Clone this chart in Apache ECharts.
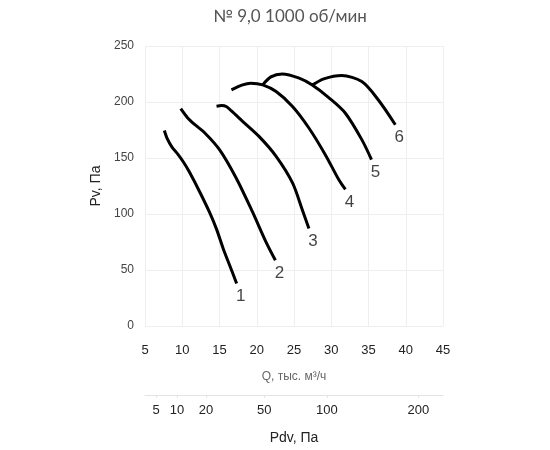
<!DOCTYPE html>
<html><head><meta charset="utf-8">
<script src="https://cdn.jsdelivr.net/npm/echarts@6/dist/echarts.min.js"></script>
<style>html,body{margin:0;padding:0;background:#fff}#c{width:550px;height:450px}</style>
</head><body><div id="c"></div>
<script>
const curveNames = ['1','2','3','4','5','6'];
const curve1 = [[7.6,174.6],[8.0,167],[8.6,160],[9.4,153.5],[10.2,146],[11.0,137],[12.4,119],[13.7,101],[14.6,86.5],[15.5,69],[16.4,53.6],[17.3,38]];
const curve2 = [[9.8,194],[10.7,186],[11.7,179.7],[13.0,172.6],[15.0,157.5],[17.2,132.6],[19.4,102.3],[21.2,75.6],[22.5,58.7]];
const curve3 = [[14.6,196.3],[15.3,196.8],[15.9,196],[16.6,192],[18.1,182.7],[20.3,169.3],[22.6,151.5],[24.8,127.8],[26.1,104],[27.0,87]];
const curve4 = [[16.6,210.9],[18.1,215.3],[19.2,216.8],[20.8,215.3],[22.6,209.3],[24.8,196],[27.0,176.8],[29.2,153],[31.0,130.8],[31.9,121.9]];
const curve5 = [[20.8,215.3],[21.9,222.4],[23.4,225],[25.7,221.3],[27.4,215.3],[29.7,203.7],[31.9,190],[34.1,166.4],[35.4,148.6]];
const curve6 = [[27.5,215.3],[29.0,220.6],[31.4,223.6],[34.1,218.2],[36.3,202],[38.6,179.7]];
const curves = [curve1,curve2,curve3,curve4,curve5,curve6];
const pdvTicks = [5,10,20,50,100,200];
const pdvTickQ = [6.5,9.3,13.2,21.0,29.4,41.7];

const chart = echarts.init(document.getElementById('c'), null, {renderer:'canvas'});
const font = 'Liberation Sans, Arial, sans-serif';
const lineSeries = curves.map((c,i)=>({
  type:'line', name:curveNames[i], xAxisIndex:0, yAxisIndex:0,
  smooth:0.3, symbol:'none', lineStyle:{color:'#000', width:3}, data:c
}));
const labelSeries = {
  type:'scatter', xAxisIndex:0, yAxisIndex:0, symbolSize:1, silent:true,
  itemStyle:{color:'rgba(0,0,0,0)'},
  label:{show:true, position:'bottom', distance:4, offset:[4,0], fontFamily:font, fontSize:17, color:'#111',
    formatter:function(p){return curveNames[p.dataIndex];}},
  data: curves.map(c=>c[c.length-1])
};
chart.setOption({
  animation:false,
  backgroundColor:'#fff',
  title:{text:'№ 9,0 1000 об/мин', left:285, top:3, textAlign:'center',
    textStyle:{fontFamily:'Lato, Noto Sans, sans-serif', fontWeight:'normal', fontSize:17, color:'#555'}},
  grid:{left:145, right:107, top:46, bottom:123, containLabel:false},
  xAxis:[{
    type:'value', min:5, max:45, interval:5,
    name:'Q, тыс. м³/ч', nameLocation:'middle', nameGap:45,
    nameTextStyle:{fontFamily:font, fontSize:12, color:'#666'},
    axisLine:{show:false}, axisTick:{show:false},
    axisLabel:{margin:18, fontFamily:font, fontSize:13, color:'#222'},
    splitLine:{show:true, lineStyle:{color:'#eeeeee', width:1}}
  },{
    type:'value', min:5, max:45, position:'bottom', offset:69,
    name:'Pdv, Па', nameLocation:'middle', nameGap:36,
    nameTextStyle:{fontFamily:font, fontSize:14, color:'#222'},
    axisLine:{show:true, onZero:false, lineStyle:{color:'#e4e4e4'}},
    axisTick:{show:true, customValues:pdvTickQ, length:3, lineStyle:{color:'#e4e4e4'}},
    axisLabel:{margin:9, fontFamily:font, fontSize:13, color:'#222', customValues:pdvTickQ,
      formatter:function(v){const i=pdvTickQ.findIndex(q=>Math.abs(q-v)<1e-6);return i>=0?String(pdvTicks[i]):'';}},
    splitLine:{show:false}
  }],
  yAxis:{
    type:'value', min:0, max:250, interval:50,
    name:'Pv, Па', nameLocation:'middle', nameGap:33,
    nameTextStyle:{fontFamily:font, fontSize:14, color:'#222'},
    axisLine:{show:false}, axisTick:{show:false},
    axisLabel:{margin:11, fontFamily:font, fontSize:12, color:'#444'},
    splitLine:{show:true, lineStyle:{color:'#eeeeee', width:1}}
  },
  series: lineSeries.concat([labelSeries])
});
</script></body></html>
